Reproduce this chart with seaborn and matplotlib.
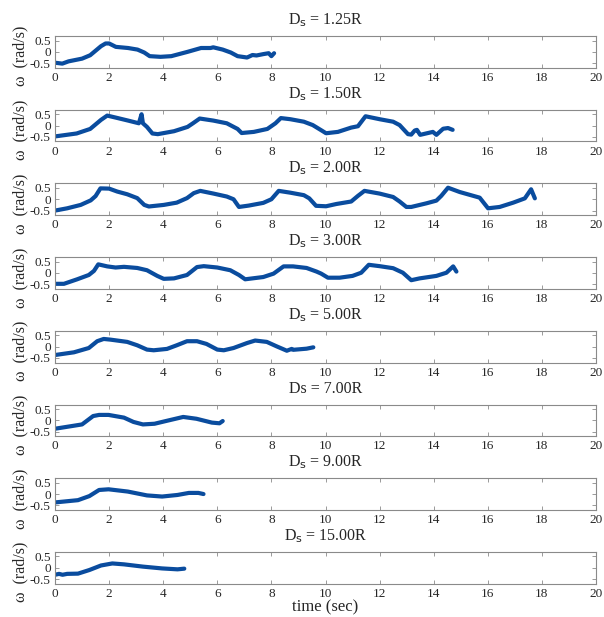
import numpy as np
import pandas as pd
import matplotlib
matplotlib.use('Agg')
import matplotlib.pyplot as plt
import seaborn as sns

# panel titles (separation distance)
titles = [r'D$_\mathrm{s}$ = 1.25R', r'D$_\mathrm{s}$ = 1.50R', r'D$_\mathrm{s}$ = 2.00R',
          r'D$_\mathrm{s}$ = 3.00R', r'D$_\mathrm{s}$ = 5.00R', 'Ds = 7.00R',
          r'D$_\mathrm{s}$ = 9.00R', r'D$_\mathrm{s}$ = 15.00R']

# angular velocity traces
t_125 = [0, 0.27, 0.5, 1.0, 1.3, 1.7, 1.87, 2.0, 2.25, 2.7, 3.05, 3.3, 3.5, 3.9, 4.3, 4.9,
         5.4, 5.75, 5.85, 6.2, 6.5, 6.75, 7.1, 7.3, 7.45, 7.7, 7.9, 8.0, 8.1]
w_125 = [-0.48, -0.52, -0.42, -0.3, -0.15, 0.25, 0.37, 0.37, 0.22, 0.17, 0.1, -0.03, -0.19, -0.22,
         -0.19, 0.0, 0.17, 0.17, 0.2, 0.1, -0.03, -0.19, -0.25, -0.14, -0.16, -0.1, -0.06, -0.19, -0.06]

t_150 = [0, 0.8, 1.3, 1.7, 1.93, 2.25, 2.7, 3.1, 3.2, 3.25, 3.4, 3.6, 3.8, 4.4, 4.9, 5.1, 5.35,
         5.85, 6.35, 6.75, 6.9, 7.35, 7.85, 8.15, 8.35, 8.7, 9.2, 9.53, 9.9, 10.02, 10.46, 10.95,
         11.2, 11.48, 12.0, 12.5, 12.74, 13.05, 13.17, 13.3, 13.38, 13.5, 13.97, 14.1, 14.35,
         14.53, 14.7]
w_150 = [-0.48, -0.35, -0.15, 0.25, 0.44, 0.35, 0.22, 0.1, 0.5, 0.1, -0.06, -0.35, -0.38, -0.25,
         -0.06, 0.1, 0.31, 0.22, 0.1, -0.15, -0.33, -0.28, -0.15, 0.1, 0.33, 0.28, 0.17, 0.02,
         -0.25, -0.34, -0.28, -0.09, -0.03, 0.41, 0.28, 0.17, 0.02, -0.38, -0.4, -0.22, -0.19,
         -0.41, -0.28, -0.41, -0.14, -0.11, -0.19]

t_200 = [0, 0.45, 0.95, 1.32, 1.5, 1.68, 2.0, 2.3, 2.67, 3.04, 3.3, 3.47, 4.02, 4.5, 4.88, 5.13,
         5.37, 5.86, 6.35, 6.6, 6.8, 7.16, 7.7, 8.0, 8.27, 8.7, 9.2, 9.4, 9.65, 10.02, 10.4,
         10.95, 11.2, 11.44, 12.0, 12.5, 12.74, 12.99, 13.17, 13.73, 14.1, 14.28, 14.53, 14.96,
         15.7, 16.01, 16.44, 16.94, 17.37, 17.6, 17.74]
w_200 = [-0.5, -0.4, -0.25, -0.05, 0.14, 0.48, 0.47, 0.34, 0.22, 0.05, -0.25, -0.32, -0.25,
         -0.15, 0.05, 0.27, 0.37, 0.25, 0.12, 0.0, -0.34, -0.28, -0.16, 0.0, 0.37, 0.29, 0.18,
         0.04, -0.29, -0.31, -0.21, -0.1, 0.15, 0.37, 0.25, 0.1, -0.1, -0.34, -0.34, -0.18,
         -0.06, 0.15, 0.51, 0.32, 0.07, -0.4, -0.34, -0.15, 0.04, 0.44, 0.04]

t_300 = [0, 0.33, 0.82, 1.25, 1.44, 1.6, 1.93, 2.24, 2.55, 3.04, 3.4, 3.78, 4.02, 4.4, 4.88,
         5.25, 5.5, 6.0, 6.48, 6.8, 7.03, 7.7, 8.08, 8.45, 8.8, 9.3, 9.67, 9.84, 10.09, 10.52,
         11.0, 11.32, 11.6, 12.0, 12.5, 12.86, 13.17, 13.48, 14.1, 14.47, 14.72, 14.84]
w_300 = [-0.48, -0.48, -0.28, -0.09, 0.09, 0.38, 0.29, 0.24, 0.27, 0.22, 0.12, -0.13, -0.26,
         -0.24, -0.09, 0.26, 0.3, 0.24, 0.12, -0.09, -0.28, -0.18, -0.03, 0.29, 0.29, 0.22,
         0.06, -0.03, -0.21, -0.21, -0.13, 0.01, 0.36, 0.3, 0.21, 0.01, -0.32, -0.24, -0.13,
         0.01, 0.29, 0.06]

t_500 = [0, 0.7, 1.25, 1.56, 1.8, 2.05, 2.67, 3.04, 3.4, 3.65, 4.14, 4.5, 4.88, 5.25, 5.6, 6.0,
         6.24, 6.6, 7.1, 7.4, 7.83, 8.2, 8.57, 8.75, 8.8, 9.3, 9.55]
w_500 = [-0.37, -0.25, -0.06, 0.24, 0.34, 0.31, 0.21, 0.06, -0.13, -0.16, -0.1, 0.06, 0.24,
         0.24, 0.12, -0.13, -0.16, -0.06, 0.16, 0.27, 0.21, 0.01, -0.18, -0.1, -0.14, -0.09, -0.03]

t_700 = [0, 1.0, 1.41, 1.63, 1.98, 2.55, 2.9, 3.25, 3.68, 4.1, 4.74, 5.23, 5.8, 6.08, 6.2]
w_700 = [-0.37, -0.18, 0.19, 0.24, 0.24, 0.12, -0.07, -0.18, -0.15, -0.03, 0.15, 0.07, -0.1,
         -0.13, -0.03]

t_900 = [0, 0.85, 1.27, 1.63, 1.98, 2.69, 3.4, 3.96, 4.53, 4.95, 5.3, 5.49]
w_900 = [-0.37, -0.27, -0.09, 0.18, 0.21, 0.11, -0.06, -0.11, -0.04, 0.05, 0.05, 0.0]

t_1500 = [0, 0.15, 0.28, 0.45, 0.85, 1.27, 1.7, 2.12, 2.55, 3.25, 3.96, 4.53, 4.78]
w_1500 = [-0.31, -0.27, -0.31, -0.27, -0.26, -0.1, 0.1, 0.19, 0.15, 0.05, -0.03, -0.07, -0.04]

times = [t_125, t_150, t_200, t_300, t_500, t_700, t_900, t_1500]
omegas = [w_125, w_150, w_200, w_300, w_500, w_700, w_900, w_1500]

sns.set_theme(style='ticks')
plt.rcParams['font.family'] = ['Liberation Serif', 'DejaVu Serif']
plt.rcParams['mathtext.default'] = 'regular'

line_color = '#0a4c9e'
spine_color = '#8a8a8a'

fig = plt.figure(figsize=(6.04, 6.17), dpi=100)
W, H = 604.0, 617.0
left, right = 55, 596

for k in range(8):
    top = 36 + 73.7 * k
    ax = fig.add_axes([left / W, 1 - (top + 31.7) / H, (right - left) / W, 31.7 / H])
    df = pd.DataFrame({'time': times[k], 'omega': omegas[k]})
    sns.lineplot(data=df, x='time', y='omega', ax=ax, color=line_color, linewidth=3.0,
                 solid_capstyle='round', sort=False)
    ax.set_xlim(0, 20)
    ax.set_ylim(-0.7, 0.7)
    ax.set_xticks(np.arange(0, 21, 2))
    ax.set_yticks([-0.5, 0, 0.5])
    ax.set_yticklabels(['-0.5', '0', '0.5'])
    ax.tick_params(direction='in', length=3, width=0.6, top=True, right=True,
                   labelsize=9.5, colors=spine_color, labelcolor='#262626', pad=3)
    for s in ax.spines.values():
        s.set_visible(True)
        s.set_color(spine_color)
        s.set_linewidth(0.8)
    ax.set_title(titles[k], fontsize=11.5, pad=8)
    ax.set_ylabel('ω  (rad/s)', fontsize=11.5)
    ax.yaxis.set_label_coords(-0.05, 0.36)
    if k == 7:
        ax.set_xlabel('time (sec)', fontsize=12, labelpad=0)
    else:
        ax.set_xlabel('')

fig.savefig('out.png', dpi=100)
